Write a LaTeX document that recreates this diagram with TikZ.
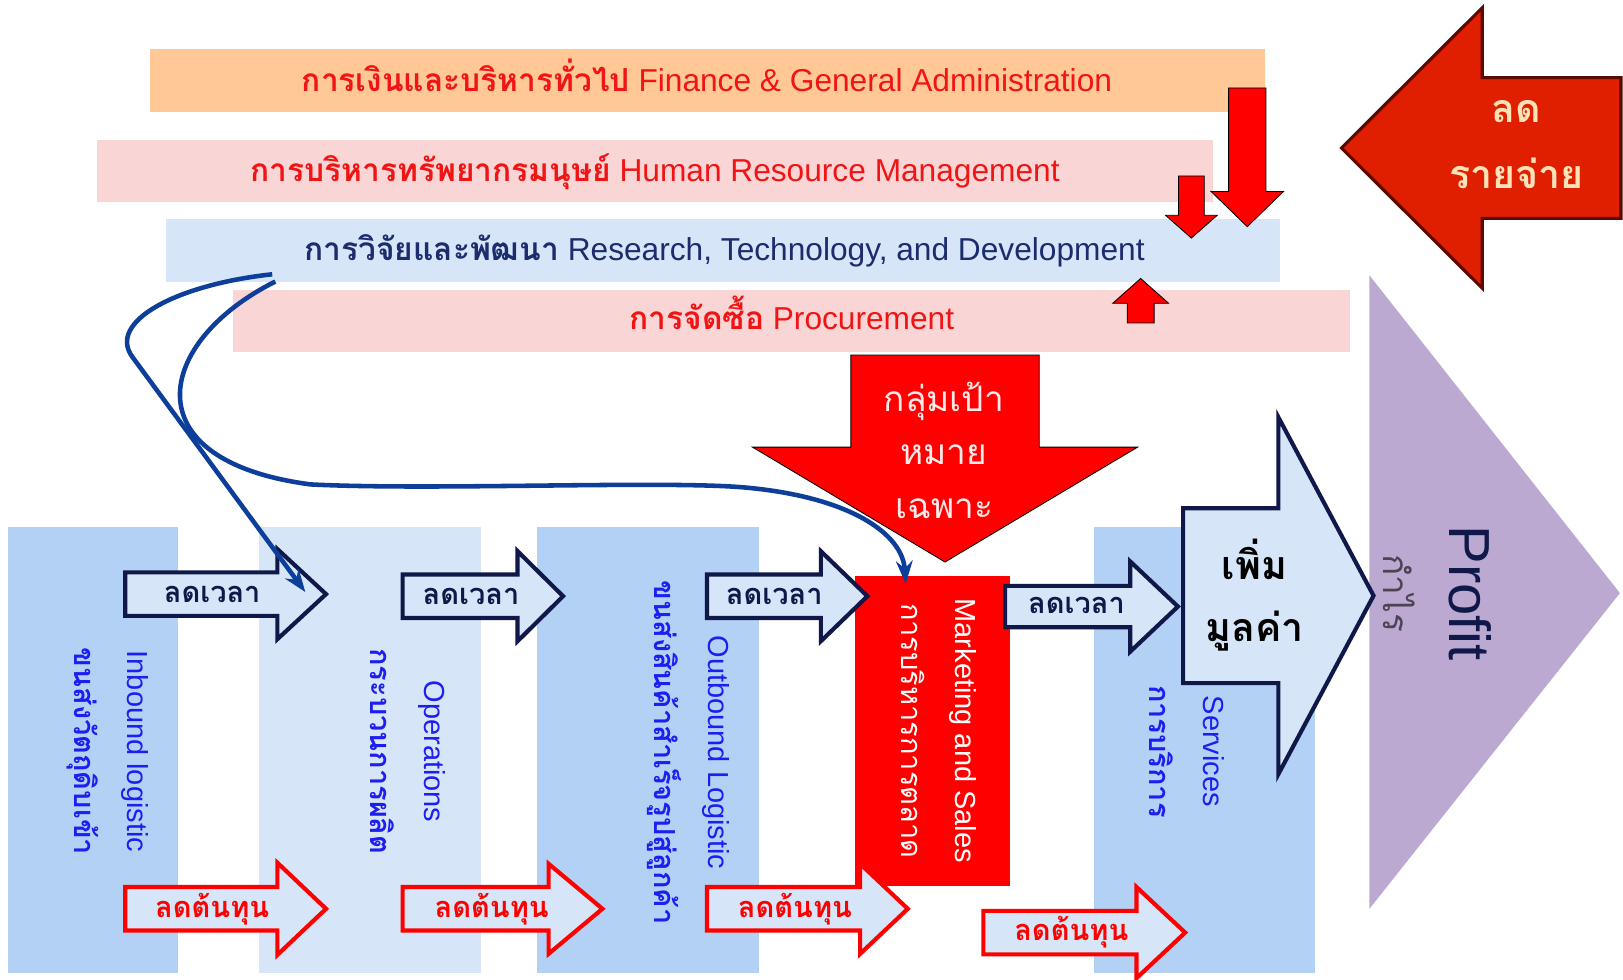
\documentclass[tikz,border=0pt]{standalone}
\usepackage{fontspec}
\setmainfont{Liberation Sans}
\newfontfamily\thai[Script=Thai]{Loma}
\usetikzlibrary{arrows.meta}
\tikzset{>=Stealth}

\definecolor{finorange}{HTML}{FFC896}
\definecolor{hrpink}{HTML}{F9D6D5}
\definecolor{paleblue}{HTML}{D6E6F8}
\definecolor{midblue}{HTML}{B3D1F5}
\definecolor{txtred}{HTML}{F01414}
\definecolor{navy}{HTML}{0F1848}
\definecolor{rdnavy}{HTML}{1C2C6C}
\definecolor{colblue}{HTML}{1E1EF0}
\definecolor{curveblue}{HTML}{0D3F9A}
\definecolor{profitpurple}{HTML}{BBA9D1}
\definecolor{costred}{HTML}{E01E00}
\definecolor{costedge}{HTML}{5A0A00}
\definecolor{peach}{HTML}{FFE2B8}

% block arrow to the right (or left): style, x start, x head, x tip, y mid, half body, half head
\newcommand{\rarrow}[7]{\draw[#1] (#2,#5-#6) -- (#3,#5-#6) -- (#3,#5-#7) -- (#4,#5) -- (#3,#5+#7) -- (#3,#5+#6) -- (#2,#5+#6) -- cycle;}
% block arrow up or down: style, x mid, y start, y head, y tip, half body, half head
\newcommand{\varrow}[7]{\draw[#1] (#2-#6,#3) -- (#2-#6,#4) -- (#2-#7,#4) -- (#2,#5) -- (#2+#7,#4) -- (#2+#6,#4) -- (#2+#6,#3) -- cycle;}

\begin{document}
\begin{tikzpicture}[x=0.5pt,y=-0.5pt,
  bartext/.style={anchor=base, font=\fontsize{15.3}{17}\selectfont, inner sep=0pt},
  coltext/.style={rotate=-90, align=center, text=colblue, font=\fontsize{14}{26}\selectfont},
  timearrow/.style={fill=paleblue, draw=navy, line width=2pt},
  costarrow/.style={fill=paleblue, draw=red, line width=2pt},
  arrowlabel/.style={font=\thai\bfseries\fontsize{14}{16}\selectfont},
  link/.style={-{Stealth[length=11pt,width=8pt]}, draw=curveblue, line width=2.2pt}]
\fill[white] (0,0) rectangle (1568,946);
\useasboundingbox (0,0) rectangle (1568,946);

% support activities
\fill[finorange] (145,47) rectangle (1222,108);
\fill[hrpink] (94,135) rectangle (1172,195);
\fill[paleblue] (160,212) rectangle (1237,272);
\fill[hrpink] (225,280) rectangle (1304,340);
\node[bartext, text=txtred] (fin) at (683,88) {{\thai\bfseries การเงินและบริหารทั่วไป} Finance \& General Administration};
\node[bartext, text=txtred] (hrm) at (633,175) {{\thai\bfseries การบริหารทรัพยากรมนุษย์} Human Resource Management};
\node[bartext, text=rdnavy] (rnd) at (700,252) {{\thai\bfseries การวิจัยและพัฒนา} Research, Technology, and Development};
\node[bartext, text=txtred] (proc) at (765,318) {{\thai\bfseries การจัดซื้อ} Procurement};

% red arrows on the support bars
\varrow{fill=red}{1205}{85}{185}{219}{18}{35}
\varrow{fill=red}{1151}{170}{208}{230}{12.5}{25}
\varrow{fill=red}{1102}{312}{293}{269}{13}{27}

% cut expenses
\rarrow{fill=costred, draw=costedge, line width=1.5pt}{1566}{1432}{1296}{143}{68}{135.5}
\node[font=\thai\bfseries\fontsize{19}{32}\selectfont, text=peach, align=center] (cut) at (1465,140) {ลด\\รายจ่าย};

% profit
\fill[profitpurple] (1323,266) -- (1565,573) -- (1323,878) -- cycle;
\node[rotate=-90, font=\fontsize{28}{30}\selectfont, text=navy] (profit) at (1420,573) {Profit};
\node[rotate=-90, font=\thai\fontsize{17}{20}\selectfont, text=profitpurple!40!black] (kamrai) at (1352,573) {กำไร};

% primary activities
\fill[midblue] (8,509) rectangle (172,940);
\fill[paleblue] (250,509) rectangle (465,940);
\fill[midblue] (519,509) rectangle (733,940);
\fill[red] (826,556) rectangle (976,856);
\fill[midblue] (1057,509) rectangle (1270,940);
\node[coltext] (inbound) at (104,726) {Inbound logistic\\{\thai\bfseries ขนส่งวัตถุดิบเข้า}};
\node[coltext] (operations) at (394,726) {Operations\\{\thai\bfseries กระบวนการผลิต}};
\node[coltext] (outbound) at (665,727) {Outbound Logistic\\{\thai\bfseries ขนส่งสินค้าสำเร็จรูปสู่ลูกค้า}};
\node[coltext, text=white] (marketing) at (907,706) {Marketing and Sales\\{\thai การบริหารการตลาด}};
\node[coltext] (services) at (1147,726) {Services\\{\thai\bfseries การบริการ}};

% target group
\varrow{fill=red}{913}{343}{432}{543}{91}{186}
\node[font=\thai\fontsize{17}{26}\selectfont, text=red!8!white, align=center] (target) at (912,435) {กลุ่มเป้า\\หมาย\\เฉพาะ};

% add value
\rarrow{fill=paleblue, draw=navy, line width=2pt}{1143}{1235}{1327}{575.5}{84.5}{172.5}
\node[font=\thai\bfseries\fontsize{19}{30}\selectfont, align=center] (value) at (1212,575) {เพิ่ม\\มูลค่า};

% reduce time
\rarrow{timearrow}{121}{268}{315}{574}{21}{43.5}
\rarrow{timearrow}{389}{500}{544}{576}{21}{43.5}
\rarrow{timearrow}{683}{793}{838}{576}{21}{43.5}
\rarrow{timearrow}{971}{1092}{1138}{586}{20}{43.5}
\node[arrowlabel, text=navy] (time1) at (205,574) {ลดเวลา};
\node[arrowlabel, text=navy] (time2) at (455,576) {ลดเวลา};
\node[arrowlabel, text=navy] (time3) at (748,576) {ลดเวลา};
\node[arrowlabel, text=navy] (time4) at (1040,585) {ลดเวลา};

% reduce cost
\rarrow{costarrow}{121}{268}{315}{878}{21}{44.5}
\rarrow{costarrow}{389}{530}{582}{878}{21}{43.5}
\rarrow{costarrow}{683}{831}{877}{878}{21}{43.5}
\rarrow{costarrow}{950}{1098}{1145}{901}{21}{44}
\node[arrowlabel, text=red] (cost1) at (205,878) {ลดต้นทุน};
\node[arrowlabel, text=red] (cost2) at (475,878) {ลดต้นทุน};
\node[arrowlabel, text=red] (cost3) at (768,878) {ลดต้นทุน};
\node[arrowlabel, text=red] (cost4) at (1035,901) {ลดต้นทุน};

% links from R&D
\coordinate (rdA) at (263,265);
\coordinate (rdB) at (266,272);
\coordinate (opin) at (295,572);
\coordinate (mktin) at (875,564);
\draw[link] (rdA) .. controls (170,275) and (103,311) .. (128,345) -- (opin);
\draw[link] (rdB) .. controls (150,330) and (125,445) .. (300,468) .. controls (420,474) and (640,464) .. (720,471) .. controls (820,480) and (872,515) .. (mktin);
\end{tikzpicture}
\end{document}
